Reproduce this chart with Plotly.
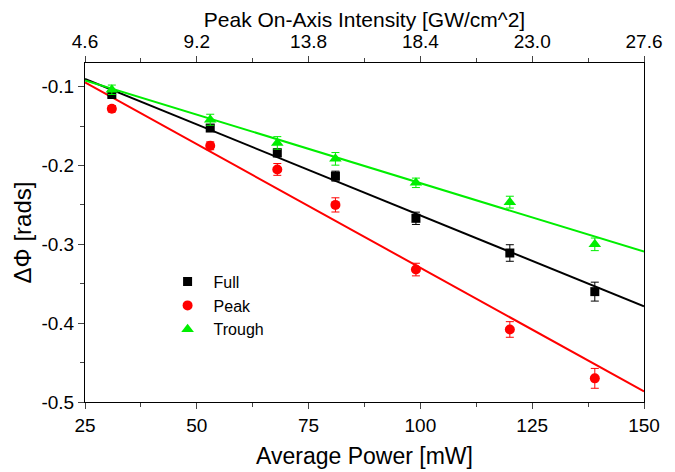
import plotly.graph_objects as go

power = [31, 53, 68, 81, 99, 120, 139]
full = [-0.110, -0.1525, -0.184, -0.2135, -0.267, -0.311, -0.360]
full_err = [0.003, 0.004, 0.005, 0.0063, 0.0078, 0.0105, 0.012]
peak = [-0.128, -0.175, -0.205, -0.250, -0.332, -0.408, -0.470]
peak_err = [0.004, 0.005, 0.0075, 0.009, 0.008, 0.0099, 0.0126]
trough = [-0.104, -0.142, -0.1714, -0.1916, -0.222, -0.2465, -0.300]
trough_err = [0.006, 0.007, 0.008, 0.008, 0.006, 0.0075, 0.008]

# linear fits: slope [rad/mW], intercept [rad]
fit_slope = {"Full": -0.002307, "Peak": -0.003137, "Trough": -0.001738}
fit_icpt = {"Full": -0.0326, "Peak": -0.0161, "Trough": -0.0486}
fit_x = [25, 150]

x_ticks = [25, 50, 75, 100, 125, 150]
top_ticks = [4.6, 9.2, 13.8, 18.4, 23.0, 27.6]
top_text = ["4.6", "9.2", "13.8", "18.4", "23.0", "27.6"]
y_ticks = [-0.5, -0.4, -0.3, -0.2, -0.1]
y_text = ["-0.5", "-0.4", "-0.3", "-0.2", "-0.1"]

colors = {"Full": "#000000", "Peak": "#ff0000", "Trough": "#00ee00"}
symbols = {"Full": "square", "Peak": "circle", "Trough": "triangle-up"}
sizes = {"Full": 9, "Peak": 10, "Trough": 11}
series = {"Full": (full, full_err), "Peak": (peak, peak_err), "Trough": (trough, trough_err)}

fig = go.Figure()
for name in ["Full", "Peak", "Trough"]:
    s, c = fit_slope[name], fit_icpt[name]
    fig.add_trace(go.Scatter(x=fit_x, y=[c + s * v for v in fit_x], mode="lines",
                             line=dict(color=colors[name], width=2), showlegend=False,
                             hoverinfo="skip"))
for name in ["Full", "Peak", "Trough"]:
    vals, errs = series[name]
    fig.add_trace(go.Scatter(x=power, y=vals, mode="markers", name=name,
                             marker=dict(symbol=symbols[name], color=colors[name], size=sizes[name]),
                             error_y=dict(type="data", array=errs, visible=True,
                                          color=colors[name], thickness=1, width=4)))
fig.add_trace(go.Scatter(x=top_ticks, y=[None]*len(top_ticks), xaxis="x2", showlegend=False,
                         mode="markers", hoverinfo="skip"))

font = "Liberation Sans, Arial, sans-serif"
fig.update_layout(
    width=675, height=472,
    margin=dict(l=77, r=39, t=55, b=78),
    paper_bgcolor="white", plot_bgcolor="white",
    font=dict(family=font, color="black", size=15),
    xaxis=dict(range=[25, 150], tickvals=x_ticks, ticks="outside", ticklen=6, tickwidth=1,
               showline=True, linecolor="black", linewidth=1, showgrid=False, zeroline=False,
               tickfont=dict(size=19), automargin=False,
               title=dict(text="Average Power [mW]", font=dict(size=23), standoff=13),
               minor=dict(tickvals=[37.5, 62.5, 87.5, 112.5, 137.5], ticks="outside", ticklen=4)),
    xaxis2=dict(range=[4.6, 27.6], overlaying="x", side="top", anchor="y",
                tickvals=top_ticks, ticktext=top_text, ticks="outside", ticklen=6,
                showline=True, linecolor="black", linewidth=1, showgrid=False, zeroline=False,
                tickfont=dict(size=19), automargin=False,
                title=dict(text="Peak On-Axis Intensity [GW/cm^2]", font=dict(size=21), standoff=9),
                minor=dict(tickvals=[6.9, 11.5, 16.1, 20.7, 25.3], ticks="outside", ticklen=4)),
    yaxis=dict(range=[-0.5, -0.07], tickvals=y_ticks, ticktext=y_text, ticks="outside", ticklen=6,
               showline=True, linecolor="black", linewidth=1, mirror=True, showgrid=False,
               zeroline=False, tickfont=dict(size=19), automargin=False,
               title=dict(text="ΔΦ [rads]", font=dict(size=24), standoff=3),
               minor=dict(tickvals=[-0.45, -0.35, -0.25, -0.15], ticks="outside", ticklen=4)),
    legend=dict(x=0.137, y=0.405, xanchor="left", yanchor="top", bgcolor="rgba(0,0,0,0)",
                font=dict(size=16), itemwidth=42, tracegroupgap=0),
    showlegend=True,
)
fig.write_html("out.html")
